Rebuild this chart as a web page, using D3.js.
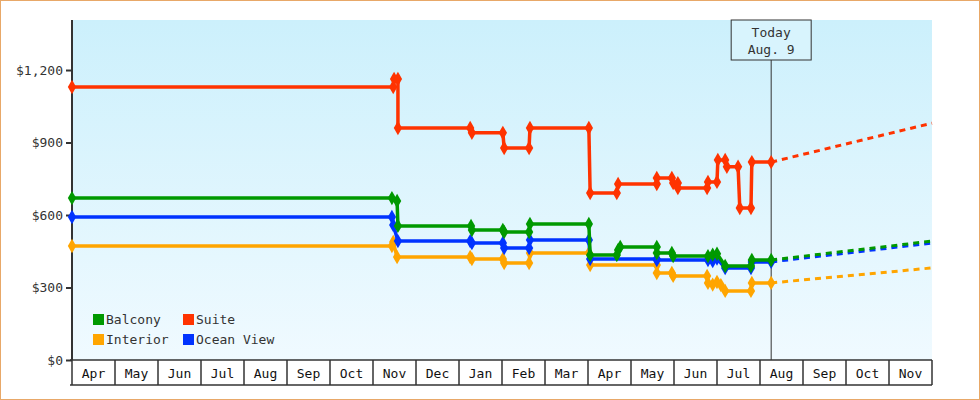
<!DOCTYPE html>
<html><head><meta charset="utf-8">
<script src="https://cdn.jsdelivr.net/npm/d3@7"></script>
<style>body{margin:0;background:#fff}text{font-family:"DejaVu Sans Mono",monospace}</style>
</head><body><div id="chart"></div>
<script>
// month offsets from start of Apr (0 = Apr 1), price in dollars
const months = ["Apr","May","Jun","Jul","Aug","Sep","Oct","Nov","Dec","Jan","Feb","Mar","Apr","May","Jun","Jul","Aug","Sep","Oct","Nov"];
const yTicks = [0, 300, 600, 900, 1200];
const todayMonth = 16.26;

const suite = [[0,1130],[7.47,1130],[7.49,1163],[7.58,1163],[7.58,960],[9.26,960],[9.3,940],[10.02,940],[10.05,877],[10.63,877],[10.65,960],[12.02,960],[12.05,691],[12.67,691],[12.7,728],[13.6,728],[13.6,753],[13.95,753],[13.98,732],[14.09,732],[14.09,712],[14.77,712],[14.79,737],[15.0,737],[15.02,828],[15.19,828],[15.23,800],[15.49,800],[15.53,629],[15.79,629],[15.81,819],[16.26,819]];
const balcony = [[0,670],[7.44,670],[7.56,658],[7.58,555],[9.28,555],[9.3,538],[10.02,538],[10.05,530],[10.63,530],[10.65,563],[12.02,563],[12.05,434],[12.67,434],[12.7,455],[12.75,468],[13.6,468],[13.6,443],[13.95,443],[13.98,430],[14.79,430],[14.9,436],[15.0,440],[15.19,389],[15.79,389],[15.81,414],[16.26,414]];
const oceanView = [[0,592],[7.44,592],[7.47,559],[7.58,492],[9.26,492],[9.3,484],[10.02,484],[10.05,463],[10.63,463],[10.65,497],[12.02,497],[12.05,418],[13.6,418],[13.6,414],[14.79,414],[14.9,410],[15.0,420],[15.19,381],[15.79,381],[15.81,406],[16.26,406]];
const interior = [[0,472],[7.44,472],[7.47,488],[7.56,426],[9.26,426],[9.3,418],[10.02,418],[10.05,401],[10.63,401],[10.65,443],[12.02,443],[12.05,393],[13.6,393],[13.6,360],[13.95,360],[13.98,348],[14.77,348],[14.79,319],[14.9,312],[15.0,323],[15.09,310],[15.19,286],[15.79,286],[15.81,319],[16.26,319]];
const forecastEnd = {Suite: 980, Balcony: 492, "Ocean View": 484, Interior: 381};

const series = [
  {name: "Interior", color: "#ffa500", data: interior},
  {name: "Ocean View", color: "#0033ff", data: oceanView},
  {name: "Balcony", color: "#009900", data: balcony},
  {name: "Suite", color: "#ff3300", data: suite}
];

const W = 980, H = 400, L = 72, R = 932, T = 20, B = 360;
const x = d3.scaleLinear().domain([0, months.length]).range([L, R]);
const y = d3.scaleLinear().domain([0, 1407]).range([B, T]);

const svg = d3.select("#chart").append("svg").attr("width", W).attr("height", H);
svg.append("rect").attr("x", 0.5).attr("y", 0.5).attr("width", W - 1).attr("height", H - 1)
  .attr("fill", "#fff").attr("stroke", "#e8a868");

const grad = svg.append("defs").append("linearGradient").attr("id", "bg").attr("x1", 0).attr("x2", 0).attr("y1", 0).attr("y2", 1);
grad.append("stop").attr("offset", "0%").attr("stop-color", "#ccf0fc");
grad.append("stop").attr("offset", "100%").attr("stop-color", "#f0faff");
svg.append("rect").attr("x", L).attr("y", T).attr("width", R - L).attr("height", B - T).attr("fill", "url(#bg)");

// y axis
const yAxis = svg.append("g").attr("transform", `translate(${L},0)`)
  .call(d3.axisLeft(y).tickValues(yTicks).tickSize(6).tickFormat(d => "$" + d3.format(",")(d)));
yAxis.select(".domain").remove();
yAxis.selectAll("line").attr("stroke", "#333").attr("stroke-width", 2);
yAxis.selectAll("text").attr("font-size", 13).attr("fill", "#333").attr("font-family", "DejaVu Sans Mono");
svg.append("line").attr("x1", L).attr("x2", L).attr("y1", T).attr("y2", B).attr("stroke", "#333").attr("stroke-width", 2);

// month boxes
const mg = svg.append("g");
mg.append("line").attr("x1", L - 2).attr("x2", R).attr("y1", B).attr("y2", B).attr("stroke", "#333").attr("stroke-width", 1.5);
mg.append("line").attr("x1", L - 2).attr("x2", R).attr("y1", 385).attr("y2", 385).attr("stroke", "#333").attr("stroke-width", 1.5);
mg.selectAll(".sep").data(d3.range(months.length + 1)).join("line")
  .attr("x1", d => x(d)).attr("x2", d => x(d)).attr("y1", B).attr("y2", 385).attr("stroke", "#333").attr("stroke-width", 1.5);
mg.selectAll(".ml").data(months).join("text")
  .attr("x", (d, i) => x(i + 0.5)).attr("y", 378).attr("text-anchor", "middle")
  .attr("font-size", 13).attr("fill", "#111").text(d => d);

// today marker
const tx = x(todayMonth);
svg.append("line").attr("x1", tx).attr("x2", tx).attr("y1", 60).attr("y2", B).attr("stroke", "#333").attr("stroke-width", 1);
svg.append("rect").attr("x", tx - 40).attr("y", 20).attr("width", 80).attr("height", 40)
  .attr("fill", "#d8f4fd").attr("stroke", "#333");
svg.append("text").attr("x", tx).attr("y", 37).attr("text-anchor", "middle").attr("font-size", 13).attr("fill", "#333").text("Today");
svg.append("text").attr("x", tx).attr("y", 54).attr("text-anchor", "middle").attr("font-size", 13).attr("fill", "#333").text("Aug. 9");

const line = d3.line().x(d => x(d[0])).y(d => y(d[1]));
const diamond = d3.symbol().type(d3.symbolDiamond).size(60);

series.forEach(s => {
  const last = s.data[s.data.length - 1];
  svg.append("path").datum([last, [months.length, forecastEnd[s.name]]]).attr("d", line)
    .attr("fill", "none").attr("stroke", s.color).attr("stroke-width", 3).attr("stroke-dasharray", "6,5");
  svg.append("path").datum(s.data).attr("d", line)
    .attr("fill", "none").attr("stroke", s.color).attr("stroke-width", 3.5);
  svg.append("g").selectAll("path").data(s.data).join("path")
    .attr("d", diamond).attr("fill", s.color)
    .attr("transform", d => `translate(${x(d[0])},${y(d[1])})`);
});

// legend
const legend = [
  {name: "Balcony", color: "#009900", lx: 93, ly: 314},
  {name: "Suite", color: "#ff3300", lx: 183, ly: 314},
  {name: "Interior", color: "#ffa500", lx: 93, ly: 334},
  {name: "Ocean View", color: "#0033ff", lx: 183, ly: 334}
];
const lg = svg.append("g").selectAll("g").data(legend).join("g").attr("transform", d => `translate(${d.lx},${d.ly})`);
lg.append("rect").attr("width", 11).attr("height", 11).attr("fill", d => d.color);
lg.append("text").attr("x", 13).attr("y", 10).attr("font-size", 13).attr("fill", "#333").text(d => d.name);
</script></body></html>
